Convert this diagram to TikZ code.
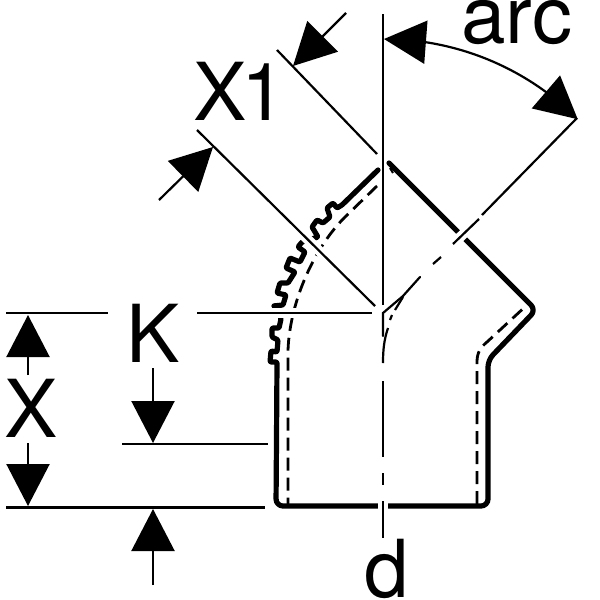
\documentclass[tikz,border=0pt]{standalone}
\usepackage{fontspec}
\setmainfont{TeX Gyre Heros}
\usetikzlibrary{arrows.meta,bending}

\tikzset{
	wall/.style={line width=5.2pt, line cap=round, line join=round},
	hidden/.style={line width=2.8pt, dash pattern=on 13pt off 7pt},
	thin line/.style={line width=2.2pt},
	halo/.style={preaction={draw, white, line width=10pt}},
	dim/.style={line width=2.2pt, -{Triangle[length=42pt, width=43pt]}},
	dimboth/.style={line width=2.2pt, {Triangle[length=42pt, width=43pt]}-{Triangle[length=42pt, width=43pt]}},
	lbl/.style={anchor=base west, inner sep=0pt, font=\fontsize{80}{80}\selectfont}
}

\begin{document}
\begin{tikzpicture}[x=1pt, y=-1pt]
	\useasboundingbox (0,0) rectangle (600,600);
	
	\coordinate (C) at (383,313); % center of the bend
	
	% hidden inner wall
	\draw[hidden] (377,186) -- (345,217) .. controls (315,247) and (290,300) .. (288,350) -- (288,504);
	\draw[hidden] (477,504) -- (477,362) .. controls (477,352) and (481,347) .. (487,342) -- (527,305);
	\draw[line width=2pt] (390,168) -- (393,173);
	
	% outer wall with grooves
	\draw[wall, rounded corners=7pt] (389,163) -- (536,310) -- (488,360) -- (488,506) -- (276,506) -- (276.5,440)
		[rounded corners=1pt] -- (277,362) -- (270,362) -- (271,351) -- (277,352) -- (278,340) -- (272,337)
		-- (272,328) -- (279,328) -- (281,319) -- (278,306) -- (273,306) -- (283,305) -- (286,295)
		-- (277,293) -- (280,283) -- (288,283) -- (295,272) -- (286,268) -- (290,258) -- (300,262)
		-- (305,252) -- (298,247) -- (302,242) -- (318,237) -- (312,227) -- (317,220)
		-- (323,223) -- (330,217) -- (327,208) -- (333,203) -- (337,208) -- (342,205) -- (378,170);
	
	% center lines
	\coordinate (A1) at (453,244);
	\coordinate (A2) at (479,219);
	\coordinate (A3) at (482,215);
	\coordinate (A4) at (577,118);
	\draw[thin line, line cap=round] (383,336) -- (383,313) -- (403,296) -- (420,277);
	\draw[thin line] (395,310) -- (403,297);
	\draw[thin line] (390,320) -- (392,315);
	\draw[thin line] (388,328) .. controls (384,340) and (383,350) .. (383,363);
	\draw[thin line] (433,264) -- (441,257);
	\draw[thin line, halo] (A1) -- (A2);
	\draw[thin line] (A3) -- (A4);
	\draw[thin line] (383,381) -- (383,457);
	\draw[thin line] (383,473) -- (383,485);
	\draw[thin line, halo] (383,501) -- (383,538);
	
	% extension lines
	\coordinate (T) at (383,14);
	\coordinate (P1) at (277,50);
	\coordinate (P2) at (377,154);
	\coordinate (Q1) at (197,130);
	\coordinate (Q2) at (375,306);
	\coordinate (R1) at (197,313);
	\coordinate (R2) at (372,313);
	\draw[thin line] (T) -- (383,305);
	\draw[thin line] (P1) -- (P2);
	\draw[thin line, halo] (Q1) -- (Q2);
	\draw[thin line, halo] (R1) -- (R2);
	\draw[thin line] (6,313) -- (108,313);
	\draw[thin line] (122,444) -- (268,444);
	\draw[thin line] (6,507.5) -- (265,507.5);
	
	% arrows
	\draw[dim] (346,13) -- (293,66);
	\draw[dim] (159,200) -- (213,147);
	\draw[dimboth] (384,39) arc[start angle=-90, end angle=-45, radius=274];
	\draw[dim] (28,375) -- (28,315);
	\draw[dim] (28,443) -- (28,506);
	\draw[dim] (153,368) -- (153,443);
	\draw[dim] (153,585) -- (153,509);
	
	% labels
	\node[lbl] (arc) at (461,43) {arc};
	\node[lbl] (X1) at (193,120) {X\kern-5pt 1};
	\node[lbl] (K) at (126,362) {K};
	\node[lbl] (X) at (4,437) {X};
	\node[lbl] (d) at (364,597) {d};
\end{tikzpicture}
\end{document}
